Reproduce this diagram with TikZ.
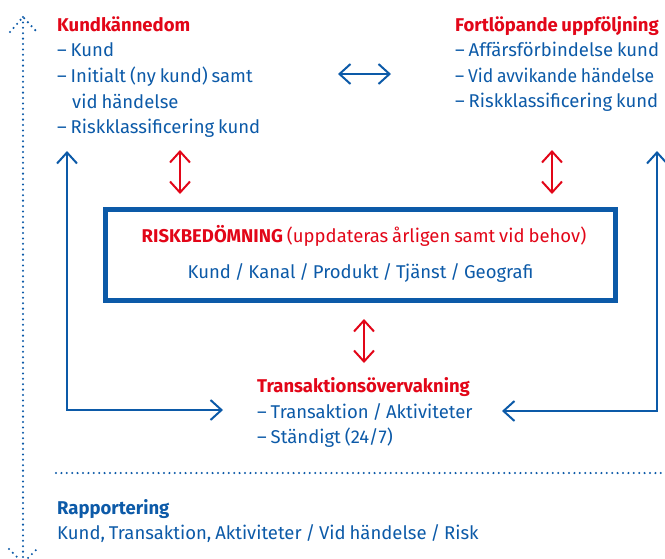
\documentclass[tikz,border=0pt]{standalone}
\usepackage{fontspec}
\setmainfont[WordSpace=0.8]{Fira Sans}
\usetikzlibrary{arrows.meta}
\definecolor{hbblue}{RGB}{12,90,168}
\definecolor{hbred}{RGB}{226,6,24}

\begin{document}
\begin{tikzpicture}[x=1pt,y=-1pt,
  line/.style={anchor=base west, inner sep=0pt, text=hbblue,
               font=\fontsize{18.5}{22}\selectfont},
  headline/.style={line, text=hbred, font=\fontsize{18.5}{22}\selectfont\bfseries},
  centreline/.style={anchor=base, inner sep=0pt, text=hbblue,
               font=\fontsize{18.5}{22}\selectfont},
  narrow/.style={font=\fontsize{18.5}{22}\selectfont\addfontfeature{FakeStretch=0.95}},
  barb/.tip={Straight Barb[length=11pt,width=20pt]},
  flow/.style={draw=hbblue, line width=2pt, barb-barb},
  link/.style={draw=hbred, line width=2pt, barb-barb},
  dots/.style={draw=hbblue, line width=2.3pt, line cap=round,
               dash pattern=on 0pt off 5.4pt},
]
\useasboundingbox (0,0) rectangle (665,558);
\clip (0,0) rectangle (665,558);

% Kundkännedom
\node[headline] (k0) at (57,31)  {Kundkännedom};
\node[line]     (k1) at (57,56)  {– Kund};
\node[line]     (k2) at (57,82)  {– Initialt (ny kund) samt};
\node[line]     (k3) at (72,108) {vid händelse};
\node[line]     (k4) at (57,133) {– Riskklassificering kund};

% Fortlöpande uppföljning
\node[headline] (f0) at (455,31)  {Fortlöpande uppföljning};
\node[line]     (f1) at (455,56)  {– Affärsförbindelse kund};
\node[line, narrow] (f2) at (455,82)  {– Vid avvikande händelse};
\node[line]     (f3) at (455,107) {– Riskklassificering kund};

% Riskbedömning box
\node[draw=hbblue, line width=5pt, minimum width=510pt, minimum height=91pt,
      inner sep=0pt] (risk) at (360.5,255) {};
\node[centreline, text=hbred] (r0) at (364,242)
  {\textbf{RISKBEDÖMNING} (uppdateras årligen samt vid behov)};
\node[centreline] (r1) at (360.5,278) {Kund / Kanal / Produkt / Tjänst / Geografi};

% Transaktionsövervakning
\node[headline] (t0) at (257,392) {Transaktionsövervakning};
\node[line]     (t1) at (257,418) {– Transaktion / Aktiviteter};
\node[line]     (t2) at (257,443) {– Ständigt (24/7)};

% Rapportering
\node[headline, text=hbblue] (p0) at (57,514) {Rapportering};
\node[line]     (p1) at (57,539) {Kund, Transaktion, Aktiviteter / Vid händelse / Risk};

% connector end points
\coordinate (kf1) at (338,74);   \coordinate (kf2) at (391,74);
\coordinate (kr1) at (180,150);  \coordinate (kr2) at (180,194);
\coordinate (fr1) at (552,150);  \coordinate (fr2) at (552,194);
\coordinate (rt1) at (364,319);  \coordinate (rt2) at (364,363);
\coordinate (lt)  at (67,151);   \coordinate (lb)  at (67,410);   \coordinate (lin) at (223,410);
\coordinate (rtp) at (657,151);  \coordinate (rb)  at (657,411);  \coordinate (rin) at (502,411);

% blue flows
\draw[flow] (kf1) -- (kf2);
\draw[flow] (lin) -- (lb) -- (lt);
\draw[flow] (rin) -- (rb) -- (rtp);

% red links to the risk assessment
\draw[link] (kr1) -- (kr2);
\draw[link] (fr1) -- (fr2);
\draw[link] (rt1) -- (rt2);

% dotted cycle line and separator
\coordinate (dtop) at (23,17);
\coordinate (dbot) at (23,563);
\draw[dots] (dtop) -- (dbot);
\draw[dots] (10,32) -- (dtop) -- (37,32);
\draw[dots] (9,549) -- (dbot) -- (37,549);
\coordinate (sepl) at (56,473);
\coordinate (sepr) at (668,473);
\draw[dots] (sepl) -- (sepr);
\end{tikzpicture}
\end{document}
